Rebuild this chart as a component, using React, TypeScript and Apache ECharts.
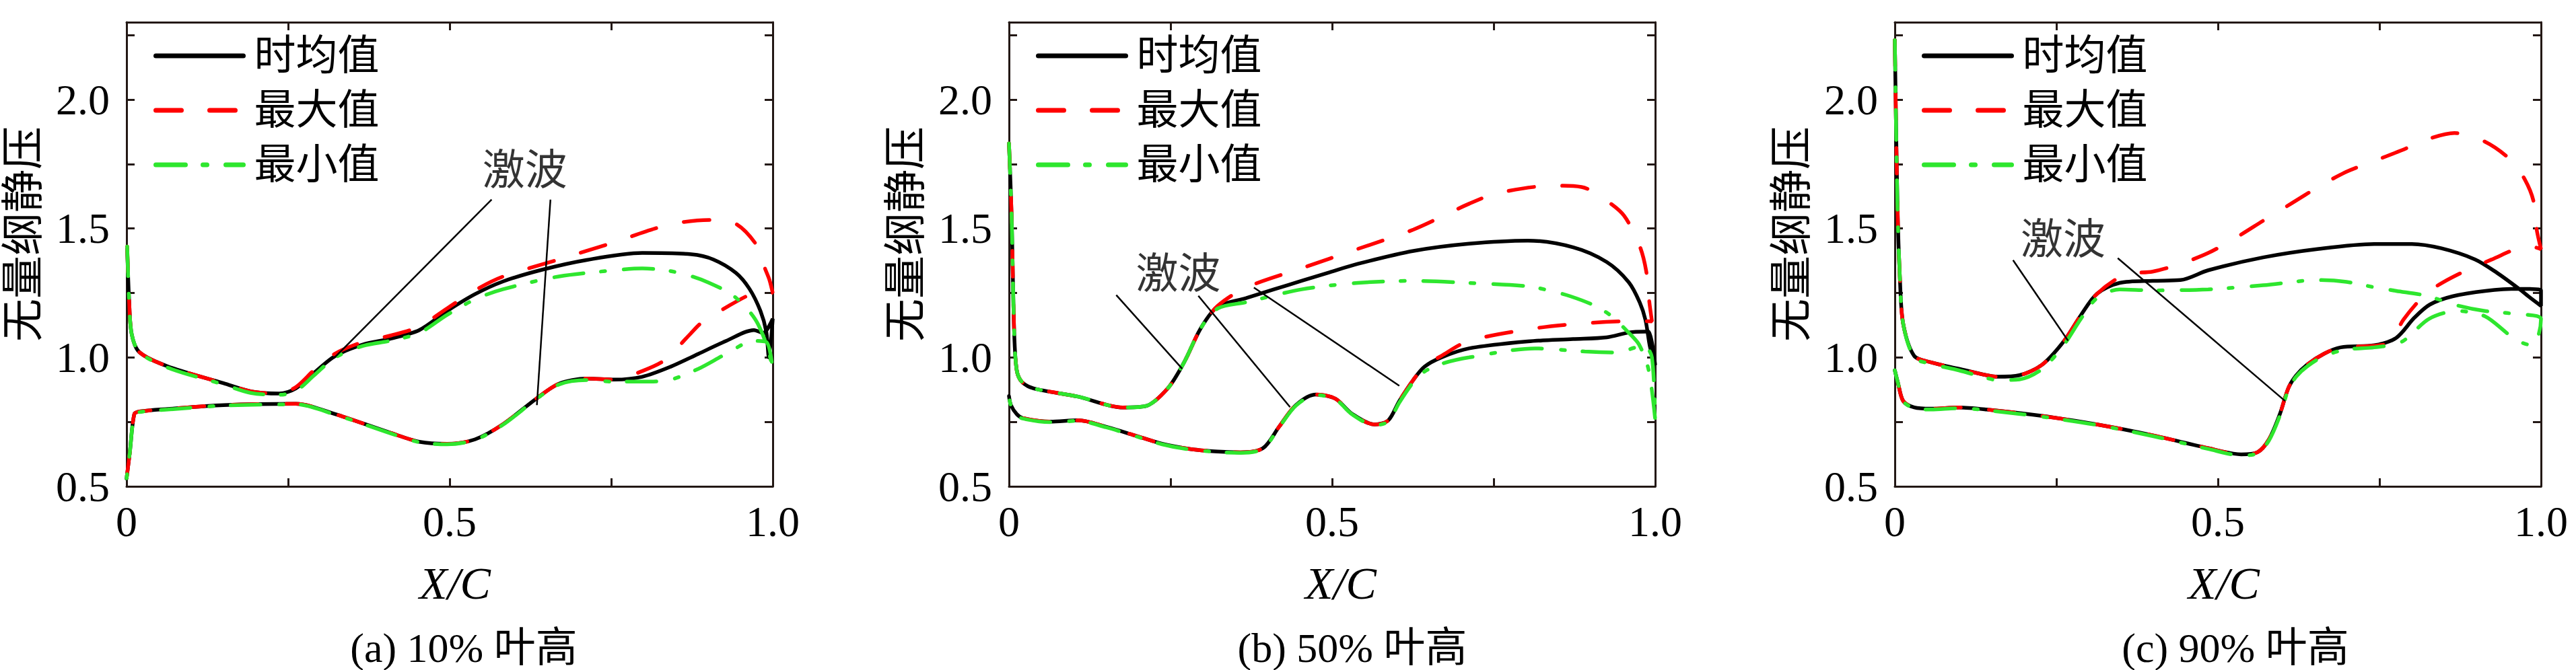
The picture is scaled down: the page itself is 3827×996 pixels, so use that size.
import { useEffect, useRef } from 'react'
import * as echarts from 'echarts'

type Pt = [number, number]

const seriesNames = ['时均值', '最大值', '最小值']
const panelCaptions = ['(a) 10% 叶高', '(b) 50% 叶高', '(c) 90% 叶高']
const yAxisTitle = '无量纲静压'
const xAxisTitle = 'X/C'
const shockText = '激波'

// (a) 10% blade height, upper branch LE->TE, lower branch TE->LE
const aMeanUpper: Pt[] = [[0.001,1.42],[0.004,1.22],[0.008,1.09],[0.02,1.02],[0.064,0.965],[0.15,0.9],[0.193,0.868],[0.236,0.86],[0.262,0.88],[0.29,0.94],[0.323,1.006],[0.366,1.05],[0.409,1.073],[0.453,1.106],[0.496,1.18],[0.539,1.245],[0.583,1.295],[0.643,1.34],[0.712,1.378],[0.798,1.405],[0.874,1.4],[0.908,1.38],[0.943,1.328],[0.964,1.266],[0.981,1.18],[0.99,1.1],[0.994,1.0],[1.0,1.15]]
const aMeanLower: Pt[] = [[0.985,1.095],[0.971,1.106],[0.928,1.064],[0.885,1.014],[0.842,0.964],[0.798,0.925],[0.755,0.914],[0.712,0.918],[0.669,0.898],[0.634,0.84],[0.582,0.74],[0.539,0.682],[0.496,0.665],[0.453,0.673],[0.409,0.707],[0.323,0.78],[0.262,0.82],[0.15,0.815],[0.064,0.8],[0.02,0.79],[0.012,0.78],[0.005,0.63],[0.0,0.53]]
const aMaxUpper: Pt[] = [[0.001,1.43],[0.004,1.22],[0.008,1.09],[0.02,1.02],[0.064,0.965],[0.15,0.9],[0.193,0.868],[0.236,0.86],[0.262,0.885],[0.29,0.95],[0.323,1.015],[0.366,1.06],[0.409,1.085],[0.453,1.12],[0.496,1.19],[0.539,1.26],[0.582,1.313],[0.669,1.38],[0.755,1.447],[0.818,1.5],[0.856,1.523],[0.905,1.533],[0.943,1.518],[0.976,1.432],[0.988,1.345],[0.995,1.3],[1.0,1.25]]
const aMaxLower: Pt[] = [[0.985,1.255],[0.966,1.245],[0.932,1.2],[0.89,1.135],[0.872,1.09],[0.833,0.99],[0.798,0.947],[0.755,0.914],[0.712,0.918],[0.669,0.898],[0.634,0.84],[0.582,0.74],[0.539,0.682],[0.496,0.665],[0.453,0.673],[0.409,0.707],[0.323,0.78],[0.262,0.82],[0.15,0.815],[0.064,0.8],[0.02,0.79],[0.012,0.78],[0.005,0.63],[0.0,0.53]]
const aMinUpper: Pt[] = [[0.001,1.43],[0.004,1.22],[0.008,1.09],[0.02,1.02],[0.064,0.96],[0.15,0.895],[0.193,0.862],[0.236,0.855],[0.262,0.87],[0.29,0.93],[0.323,1.0],[0.366,1.045],[0.409,1.065],[0.453,1.095],[0.496,1.165],[0.539,1.225],[0.582,1.264],[0.669,1.314],[0.755,1.338],[0.798,1.345],[0.839,1.336],[0.87,1.318],[0.901,1.29],[0.936,1.245],[0.96,1.19],[0.977,1.13],[0.993,1.03],[1.0,0.95]]
const aMinLower: Pt[] = [[0.99,1.06],[0.971,1.064],[0.928,1.014],[0.885,0.956],[0.842,0.914],[0.798,0.906],[0.755,0.906],[0.712,0.912],[0.669,0.895],[0.634,0.838],[0.582,0.738],[0.539,0.68],[0.496,0.663],[0.453,0.671],[0.409,0.705],[0.323,0.778],[0.262,0.818],[0.15,0.813],[0.064,0.798],[0.02,0.788],[0.012,0.778],[0.005,0.63],[0.0,0.53]]

// (b) 50% blade height
const bMeanUpper: Pt[] = [[0.0,1.83],[0.004,1.55],[0.008,1.1],[0.012,0.95],[0.02,0.905],[0.038,0.88],[0.107,0.848],[0.176,0.806],[0.211,0.811],[0.246,0.881],[0.271,0.981],[0.297,1.114],[0.323,1.197],[0.367,1.23],[0.41,1.264],[0.453,1.297],[0.496,1.33],[0.54,1.363],[0.626,1.413],[0.712,1.441],[0.803,1.453],[0.873,1.427],[0.925,1.37],[0.959,1.292],[0.976,1.214],[0.985,1.145],[0.992,1.04],[1.0,0.97]]
const bMeanLower: Pt[] = [[0.99,1.1],[0.984,1.1],[0.96,1.097],[0.925,1.078],[0.873,1.071],[0.803,1.062],[0.712,1.035],[0.669,1.0],[0.643,0.964],[0.626,0.914],[0.604,0.831],[0.587,0.756],[0.566,0.74],[0.531,0.781],[0.505,0.84],[0.475,0.856],[0.444,0.815],[0.418,0.731],[0.393,0.648],[0.358,0.632],[0.323,0.635],[0.28,0.645],[0.237,0.665],[0.194,0.698],[0.15,0.731],[0.107,0.756],[0.064,0.751],[0.021,0.765],[0.012,0.78],[0.003,0.815],[0.0,0.85]]
const bMaxUpper: Pt[] = [[0.0,1.83],[0.004,1.55],[0.008,1.1],[0.012,0.95],[0.02,0.905],[0.038,0.88],[0.107,0.848],[0.176,0.806],[0.211,0.811],[0.246,0.881],[0.271,0.981],[0.297,1.114],[0.323,1.2],[0.367,1.271],[0.453,1.346],[0.54,1.421],[0.626,1.496],[0.712,1.596],[0.756,1.637],[0.842,1.666],[0.886,1.661],[0.924,1.609],[0.952,1.549],[0.976,1.432],[0.986,1.336],[0.991,1.214],[0.995,1.14]]
const bMaxLower: Pt[] = [[0.969,1.141],[0.9,1.134],[0.82,1.115],[0.712,1.064],[0.669,1.006],[0.643,0.964],[0.626,0.914],[0.604,0.831],[0.587,0.756],[0.566,0.74],[0.531,0.781],[0.505,0.84],[0.475,0.856],[0.444,0.815],[0.418,0.731],[0.393,0.648],[0.358,0.632],[0.323,0.635],[0.28,0.645],[0.237,0.665],[0.194,0.698],[0.15,0.731],[0.107,0.756],[0.064,0.751],[0.021,0.765],[0.012,0.78],[0.003,0.815],[0.0,0.85]]
const bMinUpper: Pt[] = [[0.0,1.83],[0.004,1.55],[0.008,1.1],[0.012,0.95],[0.02,0.905],[0.038,0.88],[0.107,0.848],[0.176,0.806],[0.211,0.811],[0.246,0.881],[0.271,0.981],[0.297,1.114],[0.323,1.19],[0.367,1.214],[0.453,1.264],[0.54,1.289],[0.626,1.297],[0.712,1.289],[0.803,1.276],[0.838,1.258],[0.869,1.237],[0.907,1.2],[0.932,1.161],[0.957,1.101],[0.975,1.05],[0.99,0.95],[1.0,0.76]]
const bMinLower: Pt[] = [[0.995,1.0],[0.985,1.04],[0.974,1.04],[0.943,1.019],[0.891,1.023],[0.814,1.035],[0.712,1.0],[0.669,0.975],[0.643,0.945],[0.626,0.905],[0.604,0.825],[0.587,0.752],[0.566,0.737],[0.531,0.779],[0.505,0.838],[0.475,0.854],[0.444,0.813],[0.418,0.729],[0.393,0.646],[0.358,0.63],[0.323,0.633],[0.28,0.643],[0.237,0.663],[0.194,0.696],[0.15,0.729],[0.107,0.754],[0.064,0.749],[0.021,0.763],[0.012,0.778],[0.003,0.813],[0.0,0.85]]

// (c) 90% blade height
const cMeanUpper: Pt[] = [[0.0,2.23],[0.004,1.6],[0.008,1.3],[0.013,1.13],[0.03,1.006],[0.056,0.981],[0.099,0.956],[0.142,0.931],[0.159,0.925],[0.193,0.931],[0.228,0.972],[0.262,1.064],[0.288,1.164],[0.313,1.247],[0.348,1.289],[0.399,1.297],[0.442,1.3],[0.485,1.338],[0.57,1.388],[0.656,1.421],[0.742,1.44],[0.8,1.44],[0.846,1.423],[0.898,1.38],[0.932,1.328],[0.966,1.266],[0.983,1.232],[1.0,1.2]]
const cMeanLower: Pt[] = [[1.0,1.26],[0.966,1.266],[0.914,1.258],[0.863,1.237],[0.828,1.205],[0.804,1.154],[0.776,1.076],[0.742,1.047],[0.69,1.039],[0.664,1.014],[0.638,0.972],[0.621,0.93],[0.609,0.881],[0.596,0.781],[0.579,0.682],[0.561,0.632],[0.536,0.624],[0.485,0.648],[0.399,0.698],[0.313,0.74],[0.228,0.773],[0.142,0.798],[0.099,0.806],[0.056,0.801],[0.03,0.806],[0.013,0.831],[0.005,0.9],[0.0,0.95]]
const cMaxUpper: Pt[] = [[0.0,2.23],[0.004,1.6],[0.008,1.3],[0.013,1.13],[0.03,1.006],[0.056,0.981],[0.099,0.956],[0.142,0.931],[0.159,0.925],[0.193,0.931],[0.228,0.972],[0.262,1.064],[0.288,1.164],[0.313,1.247],[0.356,1.321],[0.399,1.333],[0.442,1.363],[0.485,1.405],[0.527,1.463],[0.57,1.53],[0.613,1.596],[0.656,1.662],[0.699,1.72],[0.742,1.762],[0.784,1.803],[0.827,1.848],[0.866,1.87],[0.913,1.837],[0.955,1.762],[0.975,1.69],[0.988,1.61],[0.993,1.5],[1.0,1.42]]
const cMaxLower: Pt[] = [[0.985,1.43],[0.969,1.427],[0.924,1.38],[0.89,1.344],[0.849,1.292],[0.821,1.245],[0.787,1.146],[0.767,1.06],[0.742,1.045],[0.69,1.039],[0.664,1.014],[0.638,0.972],[0.621,0.93],[0.609,0.881],[0.596,0.781],[0.579,0.682],[0.561,0.632],[0.536,0.624],[0.485,0.648],[0.399,0.698],[0.313,0.74],[0.228,0.773],[0.142,0.798],[0.099,0.806],[0.056,0.801],[0.03,0.806],[0.013,0.831],[0.005,0.9],[0.0,0.95]]
const cMinUpper: Pt[] = [[0.0,2.23],[0.004,1.6],[0.008,1.3],[0.013,1.13],[0.03,1.0],[0.056,0.975],[0.099,0.95],[0.142,0.92],[0.159,0.912],[0.193,0.915],[0.228,0.955],[0.262,1.05],[0.288,1.15],[0.313,1.23],[0.348,1.264],[0.399,1.26],[0.485,1.264],[0.57,1.28],[0.656,1.3],[0.699,1.293],[0.742,1.272],[0.776,1.258],[0.821,1.24],[0.873,1.2],[0.913,1.18],[0.955,1.17],[1.0,1.15]]
const cMinLower: Pt[] = [[0.995,1.08],[0.981,1.05],[0.955,1.08],[0.913,1.16],[0.87,1.18],[0.827,1.15],[0.784,1.06],[0.742,1.039],[0.699,1.031],[0.664,1.005],[0.638,0.965],[0.621,0.925],[0.609,0.875],[0.596,0.775],[0.579,0.678],[0.561,0.628],[0.536,0.62],[0.485,0.645],[0.399,0.695],[0.313,0.738],[0.228,0.77],[0.142,0.795],[0.099,0.803],[0.056,0.798],[0.03,0.803],[0.013,0.83],[0.005,0.9],[0.0,0.95]]

// shock annotations: leader lines [x1, y1, x2, y2] and label anchor, in data units
const aShockLines = [[0.565,1.612,0.321,0.997],[0.656,1.612,0.635,0.815]]
const bShockLines = [[0.166,1.242,0.268,0.956],[0.293,1.239,0.435,0.807],[0.379,1.271,0.604,0.89]]
const cShockLines = [[0.183,1.377,0.268,1.065],[0.345,1.385,0.604,0.831]]
const aShockLabel: Pt = [0.617, 1.724]
const bShockLabel: Pt = [0.2625, 1.323]
const cShockLabel: Pt = [0.261, 1.456]

const panels = [
  { mean: [aMeanUpper, aMeanLower], max: [aMaxUpper, aMaxLower], min: [aMinUpper, aMinLower], lines: aShockLines, label: aShockLabel },
  { mean: [bMeanUpper, bMeanLower], max: [bMaxUpper, bMaxLower], min: [bMinUpper, bMinLower], lines: bShockLines, label: bShockLabel },
  { mean: [cMeanUpper, cMeanLower], max: [cMaxUpper, cMaxLower], min: [cMinUpper, cMinLower], lines: cShockLines, label: cShockLabel },
]

const W = 3827
const H = 996
const plotLefts = [188, 1499, 2815]
const plotW = 960
const plotTop = 33
const plotH = 690
const captionShift = [21, 30, 26]
const nameShift = [8, 13, 9]

const serif = '"Liberation Serif", "Times New Roman", "Noto Sans CJK SC", serif'
const axisColor = '#231815'
const colors = ['#000000', '#ff0000', '#2ee62e']
const dashes: any[] = ['solid', [38, 42], [44, 26, 6, 28]]

const fmtTick = (v: number) => {
  if (Math.abs(v) < 1e-9) return '0'
  const twice = v * 2
  return Math.abs(twice - Math.round(twice)) < 1e-6 ? v.toFixed(1) : ''
}

export default function App() {
  const chartRef = useRef<HTMLDivElement>(null)

  useEffect(() => {
    const chart = echarts.init(chartRef.current, null, { renderer: 'svg' })

    const grid: any[] = []
    const xAxis: any[] = []
    const yAxis: any[] = []
    const series: any[] = []
    const legend: any[] = []
    const graphic: any[] = []

    const tick = { show: true, inside: true, length: 12, lineStyle: { color: axisColor, width: 3 } }
    const line = { show: true, onZero: false, lineStyle: { color: axisColor, width: 3 } }

    panels.forEach((p, i) => {
      const left = plotLefts[i]
      grid.push({ left, top: plotTop, width: plotW, height: plotH, containLabel: false })
      const xBase = { type: 'value', gridIndex: i, min: 0, max: 1, interval: 0.25, axisLine: line, axisTick: tick, splitLine: { show: false } }
      xAxis.push({
        ...xBase, position: 'bottom',
        axisLabel: { formatter: fmtTick, fontSize: 64, fontFamily: serif, color: '#000', margin: 20 },
      })
      xAxis.push({ ...xBase, position: 'top', axisLabel: { show: false } })
      const yBase = { type: 'value', gridIndex: i, min: 0.5, max: 2.3, interval: 0.25, axisLine: line, axisTick: tick, splitLine: { show: false } }
      yAxis.push({
        ...yBase, position: 'left',
        axisLabel: { formatter: (v: number) => (v > 2.01 ? '' : fmtTick(v)), fontSize: 64, fontFamily: serif, color: '#000', margin: 25 },
      })
      yAxis.push({ ...yBase, position: 'right', axisLabel: { show: false } })

      const branches = [p.mean, p.max, p.min]
      branches.forEach((b, k) => {
        series.push({
          type: 'line', name: seriesNames[k], xAxisIndex: 2 * i, yAxisIndex: 2 * i,
          data: [...b[0], ...b[1]], symbol: 'none', smooth: 0.3, silent: true, z: 3 + k,
          lineStyle: { color: colors[k], width: 5.5, type: dashes[k], cap: 'round' },
        })
      })

      p.lines.forEach((s) => {
        series.push({
          type: 'line', xAxisIndex: 2 * i, yAxisIndex: 2 * i, symbol: 'none', silent: true, z: 7,
          data: [[s[0], s[1]], [s[2], s[3]]],
          lineStyle: { color: '#000', width: 2.5 },
        })
      })
      series.push({
        type: 'scatter', xAxisIndex: 2 * i, yAxisIndex: 2 * i, silent: true, z: 8,
        symbolSize: 1, itemStyle: { color: 'rgba(0,0,0,0)' },
        data: [p.label],
        label: {
          show: true, position: [0, 0], align: 'center', verticalAlign: 'middle',
          formatter: shockText, fontSize: 63, fontFamily: serif, color: '#000',
        },
      })

      legend.push({
        data: seriesNames, orient: 'vertical', left: left + 35, top: 47,
        itemWidth: 130, itemHeight: 20, itemGap: 19, selectedMode: false,
        itemStyle: { opacity: 0 },
        lineStyle: { width: 7, cap: 'round' },
        textStyle: { fontSize: 62, lineHeight: 62, fontFamily: serif, color: '#000', padding: [0, 0, 0, 11] },
      })

      const cx = left + plotW / 2
      graphic.push({
        type: 'text', x: left - 154, y: 348, rotation: Math.PI / 2,
        style: { text: yAxisTitle, fontSize: 64, fontFamily: serif, fill: '#000', align: 'center', verticalAlign: 'middle' },
      })
      graphic.push({
        type: 'text', x: cx + nameShift[i], y: 867,
        style: { text: xAxisTitle, fontSize: 68, fontStyle: 'italic', fontFamily: serif, fill: '#000', align: 'center', verticalAlign: 'middle' },
      })
      graphic.push({
        type: 'text', x: cx + captionShift[i], y: 963,
        style: { text: panelCaptions[i], fontSize: 62, fontFamily: serif, fill: '#000', align: 'center', verticalAlign: 'middle' },
      })
    })

    chart.setOption({
      animation: false,
      backgroundColor: '#fff',
      grid, xAxis, yAxis, series, legend, graphic,
    })

    return () => {
      chart.dispose()
    }
  }, [])

  return <div ref={chartRef} style={{ position: 'fixed', left: 0, top: 0, width: W + 'px', height: H + 'px' }} />
}
